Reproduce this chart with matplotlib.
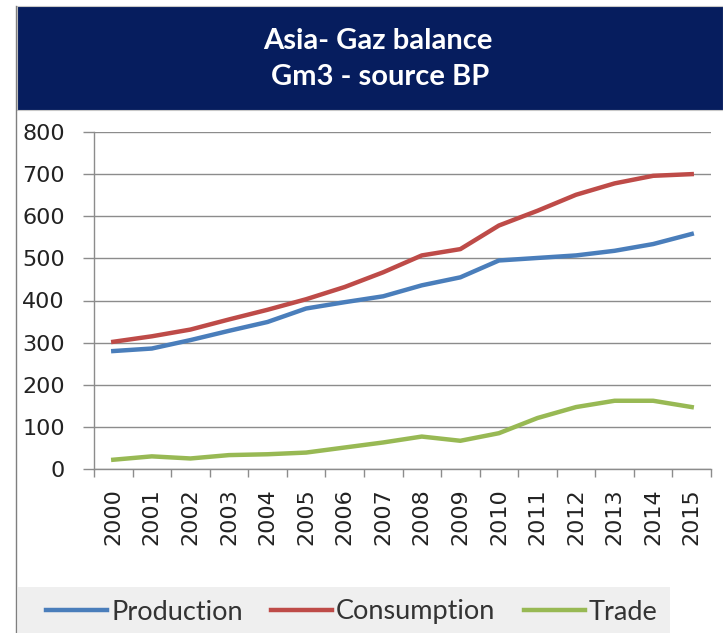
import matplotlib.pyplot as plt
from matplotlib.patches import Rectangle
from matplotlib.lines import Line2D

# data (Gm3)
years = [str(y) for y in range(2000, 2016)]
production = [280, 286, 306, 328, 349, 381, 396, 410, 436, 455, 495, 501, 507, 518, 534, 558]
consumption = [302, 315, 331, 355, 378, 403, 432, 467, 507, 522, 578, 613, 651, 678, 696, 700]
trade = [22, 30, 25, 33, 35, 39, 51, 63, 77, 67, 85, 121, 147, 162, 162, 147]

W, H = 723, 633
fig = plt.figure(figsize=(W / 100, H / 100), dpi=100)

# title banner
fig.patches.append(Rectangle((17 / W, 1 - 110 / H), 1 - 17 / W, 104 / H,
                             transform=fig.transFigure, facecolor="#061d5e",
                             edgecolor="#c8c8c8", linewidth=0.8, zorder=0))
fig.lines.append(Line2D([16 / W, 16 / W], [0, 1 - 6 / H], transform=fig.transFigure,
                        color="#7f7f7f", linewidth=1.0))
fig.text(378 / W, 1 - 41 / H, "Asia- Gaz balance", color="white", fontsize=21,
         fontweight="bold", family="Lato", ha="center", va="center")
fig.text(380 / W, 1 - 77 / H, "Gm3 - source BP", color="white", fontsize=21,
         fontweight="bold", family="Lato", ha="center", va="center")

ax = fig.add_axes([94 / W, 1 - 469 / H, (711 - 94) / W, (469 - 132) / H])
x = range(len(years))
ax.plot(x, production, color="#4a7ebb", linewidth=3.2, label="Production")
ax.plot(x, consumption, color="#be4b48", linewidth=3.2, label="Consumption")
ax.plot(x, trade, color="#98b954", linewidth=3.2, label="Trade")

ax.set_xlim(-0.5, len(years) - 0.5)
ax.set_ylim(0, 800)
ax.set_yticks(range(0, 801, 100))
ax.grid(axis="y", color="#8c8c8c", linewidth=1.0)
ax.set_axisbelow(True)
for s in ["top", "right"]:
    ax.spines[s].set_visible(False)
for s in ["left", "bottom"]:
    ax.spines[s].set_color("#8c8c8c")
    ax.spines[s].set_linewidth(1.0)

ax.set_xticks(list(x))
ax.set_xticklabels(years, rotation=90)
ax.set_xticks([i - 0.5 for i in range(len(years) + 1)], minor=True)
ax.tick_params(axis="x", which="major", length=0, pad=14, labelsize=16, labelcolor="#222222")
ax.tick_params(axis="x", which="minor", length=6, width=1, color="#8c8c8c")
ax.tick_params(axis="y", length=8, width=1, color="#8c8c8c", pad=13, labelsize=16,
               labelcolor="#222222")

# legend with grey background
fig.patches.append(Rectangle((18 / W, 0), (670 - 18) / W, (H - 587) / H,
                             transform=fig.transFigure, facecolor="#efefef",
                             edgecolor="none", zorder=0))
fig.legend(loc="center left", bbox_to_anchor=(46 / W, 1 - 612 / H), ncol=3,
           frameon=False, handlelength=2.25, handletextpad=0.15,
           columnspacing=1.05, borderpad=0, borderaxespad=0, labelcolor="#333333",
           prop={"family": "Lato", "size": 19.5})

fig.savefig("out.png", dpi=100)
